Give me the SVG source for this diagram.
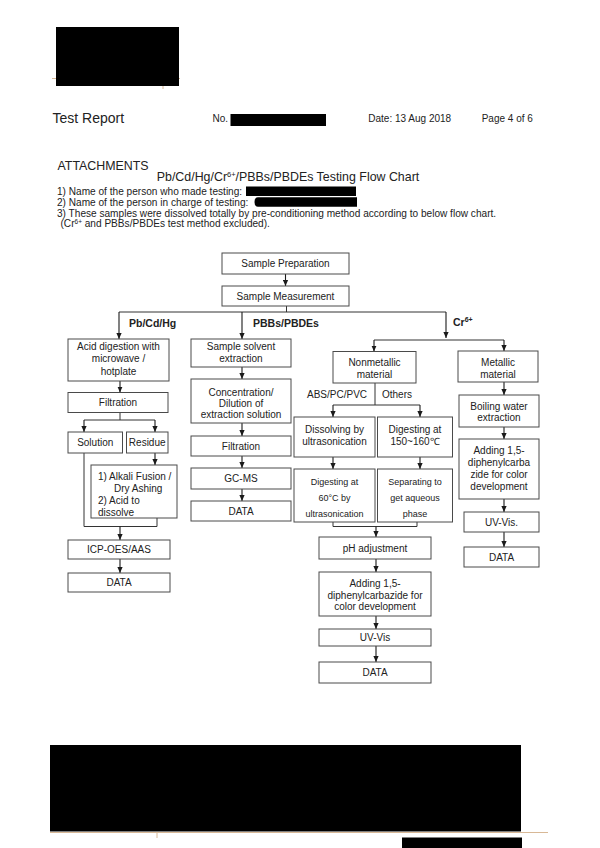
<svg xmlns="http://www.w3.org/2000/svg" width="600" height="848" viewBox="0 0 600 848">
<defs>
<marker id="ah" viewBox="0 0 6 6" refX="6" refY="3" markerWidth="6" markerHeight="6" markerUnits="userSpaceOnUse" orient="auto">
<path d="M0,0.4 L6,3 L0,5.6 z" fill="#1a1a1a"/>
</marker>
<style>
.t{font-family:"Liberation Sans",Arial,sans-serif;font-size:10px;fill:#222}
.c{text-anchor:middle}
.s{font-size:9px}
.b{font-weight:bold;font-size:10.5px}
.i{font-size:10.1px}
.box{fill:#fff;stroke:#4a4a4a;stroke-width:1}
.ln{fill:none;stroke:#333;stroke-width:1}
.ar{fill:none;stroke:#1a1a1a;stroke-width:1.1;marker-end:url(#ah)}
.red{fill:#000}
.tan{stroke:#d8b896;stroke-width:1;fill:none}
</style>
</defs>
<rect width="600" height="848" fill="#fff"/>

<g id="header">
<line class="tan" x1="52" y1="78.5" x2="180" y2="78.5"/>
<line class="tan" x1="163" y1="78" x2="163" y2="89"/>
<rect class="red" x="56" y="27" width="123" height="59"/>
<text class="t" x="52.5" y="122.5" style="font-size:14px">Test Report</text>
<text class="t" x="212.5" y="122">No.</text>
<rect class="red" x="230.5" y="114" width="95.5" height="12"/>
<text class="t" x="368.3" y="122">Date: 13 Aug 2018</text>
<text class="t" x="481.7" y="122">Page 4 of 6</text>
</g>

<g id="intro">
<text class="t" x="57.5" y="169.5" style="font-size:12.4px">ATTACHMENTS</text>
<text class="t c" x="288" y="181" style="font-size:12.4px">Pb/Cd/Hg/Cr<tspan style="font-size:7.5px" dy="-4.5">6+</tspan><tspan dy="4.5">/PBBs/PBDEs Testing Flow Chart</tspan></text>
<text class="t i" x="57" y="195">1) Name of the person who made testing:</text>
<rect class="red" x="246" y="186.5" width="110" height="9.5"/>
<text class="t i" x="57" y="205.8">2) Name of the person in charge of testing:</text>
<path class="red" d="M258,197.3 H357 V206.8 H258 Q254.5,206.8 254.5,202 Q254.5,197.3 258,197.3 z"/>
<text class="t i" x="57" y="216.7">3) These samples were dissolved totally by pre-conditioning method according to below flow chart.</text>
<text class="t i" x="60.5" y="227">(Cr<tspan style="font-size:6.5px" dy="-3.5">6+</tspan><tspan dy="3.5"> and PBBs/PBDEs test method excluded).</tspan></text>
</g>

<g id="connectors">
<line class="ar" x1="285.5" y1="274" x2="285.5" y2="286"/>
<polyline class="ln" points="286.5,306 286.5,312"/>
<line class="ln" x1="119" y1="312" x2="446" y2="312"/>
<line class="ar" x1="119" y1="312" x2="119" y2="339"/>
<line class="ar" x1="242" y1="312" x2="242" y2="339"/>
<line class="ar" x1="446" y1="312" x2="446" y2="338"/>
<line class="ln" x1="374" y1="340" x2="504" y2="340"/>
<line class="ar" x1="374" y1="340" x2="374" y2="351.5"/>
<line class="ar" x1="504" y1="340" x2="504" y2="351"/>
<line class="ar" x1="120" y1="381" x2="120" y2="392.5"/>
<line class="ln" x1="120" y1="412.5" x2="120" y2="420"/>
<line class="ln" x1="84" y1="420" x2="155" y2="420"/>
<line class="ar" x1="84" y1="420" x2="84" y2="432"/>
<line class="ar" x1="155" y1="420" x2="155" y2="432"/>
<line class="ar" x1="155" y1="453" x2="155" y2="465"/>
<polyline class="ln" points="84,453 84,526.5 157,526.5 157,518"/>
<line class="ar" x1="120" y1="526.5" x2="120" y2="540"/>
<line class="ar" x1="120" y1="559" x2="120" y2="573"/>
<line class="ar" x1="242" y1="367" x2="242" y2="379"/>
<line class="ar" x1="242" y1="423" x2="242" y2="436"/>
<line class="ar" x1="242" y1="456" x2="242" y2="468"/>
<line class="ar" x1="242" y1="489" x2="242" y2="501"/>
<line class="ln" x1="375" y1="383" x2="375" y2="405"/>
<line class="ln" x1="333" y1="405" x2="420" y2="405"/>
<line class="ar" x1="333" y1="405" x2="333" y2="417"/>
<line class="ar" x1="420" y1="405" x2="420" y2="417"/>
<line class="ar" x1="333" y1="457" x2="333" y2="469"/>
<line class="ar" x1="420" y1="457" x2="420" y2="469"/>
<polyline class="ln" points="333,522 333,526.5 417,526.5 417,522"/>
<line class="ar" x1="376" y1="526.5" x2="376" y2="537"/>
<line class="ar" x1="376" y1="559" x2="376" y2="572"/>
<line class="ar" x1="376" y1="616" x2="376" y2="629"/>
<line class="ar" x1="376" y1="646" x2="376" y2="662"/>
<line class="ar" x1="504" y1="382" x2="504" y2="395"/>
<line class="ar" x1="504" y1="427" x2="504" y2="439"/>
<line class="ar" x1="504" y1="499" x2="504" y2="512"/>
<line class="ar" x1="504" y1="532" x2="504" y2="547"/>
</g>

<g id="labels">
<text class="t b" x="129" y="327">Pb/Cd/Hg</text>
<text class="t b" x="253" y="327">PBBs/PBDEs</text>
<text class="t b" x="453" y="326">Cr<tspan style="font-size:7px" dy="-4">6+</tspan></text>
<text class="t" x="307" y="397.5">ABS/PC/PVC</text>
<text class="t" x="382" y="397.5">Others</text>
</g>

<g id="sample-preparation"><rect class="box" x="222" y="253" width="127" height="21"/><text class="t c" x="285.5" y="267">Sample Preparation</text></g>
<g id="sample-measurement"><rect class="box" x="222" y="286" width="127" height="20"/><text class="t c" x="285.5" y="299.5">Sample Measurement</text></g>

<g id="acid-digestion"><rect class="box" x="68" y="339" width="101" height="42"/><text class="t c" x="118.5" y="350">Acid digestion with</text><text class="t c" x="118.5" y="362">microwave /</text><text class="t c" x="118.5" y="374.5">hotplate</text></g>
<g id="filtration-1"><rect class="box" x="68" y="392.5" width="100" height="20"/><text class="t c" x="118" y="406">Filtration</text></g>
<g id="solution"><rect class="box" x="68" y="432" width="54.5" height="21"/><text class="t c" x="95.2" y="446">Solution</text></g>
<g id="residue"><rect class="box" x="126.5" y="432" width="41.5" height="21"/><text class="t c" x="147.2" y="446">Residue</text></g>
<g id="alkali-fusion"><rect class="box" x="91" y="465" width="86" height="53"/><text class="t" x="98" y="480">1) Alkali Fusion /</text><text class="t" x="114" y="492">Dry Ashing</text><text class="t" x="98" y="504">2) Acid to</text><text class="t" x="98" y="515.5">dissolve</text></g>
<g id="icp-oes"><rect class="box" x="68" y="540" width="102" height="19"/><text class="t c" x="119" y="553">ICP-OES/AAS</text></g>
<g id="data-1"><rect class="box" x="68" y="573" width="102" height="19"/><text class="t c" x="119" y="586">DATA</text></g>

<g id="solvent-extraction"><rect class="box" x="191" y="339" width="100" height="28"/><text class="t c" x="241" y="350">Sample solvent</text><text class="t c" x="241" y="362">extraction</text></g>
<g id="concentration"><rect class="box" x="191" y="379" width="100" height="44"/><text class="t c" x="241" y="396">Concentration/</text><text class="t c" x="241" y="407">Dilution of</text><text class="t c" x="241" y="418">extraction solution</text></g>
<g id="filtration-2"><rect class="box" x="191" y="436" width="100" height="20"/><text class="t c" x="241" y="449.5">Filtration</text></g>
<g id="gc-ms"><rect class="box" x="191" y="468" width="100" height="21"/><text class="t c" x="241" y="482">GC-MS</text></g>
<g id="data-2"><rect class="box" x="191" y="501" width="100" height="20"/><text class="t c" x="241" y="514.5">DATA</text></g>

<g id="nonmetallic"><rect class="box" x="333" y="351.5" width="83" height="31.5"/><text class="t c" x="374.5" y="366">Nonmetallic</text><text class="t c" x="374.5" y="378">material</text></g>
<g id="dissolving"><rect class="box" x="294" y="417" width="81" height="40"/><text class="t c" x="334.5" y="432.5">Dissolving by</text><text class="t c" x="334.5" y="444.5">ultrasonication</text></g>
<g id="digesting-150"><rect class="box" x="377.5" y="417" width="75" height="40"/><text class="t c" x="415" y="432.5">Digesting at</text><text class="t c" x="415" y="444.5">150~160℃</text></g>
<g id="digesting-60"><rect class="box" x="294" y="469" width="81" height="53"/><text class="t c s" x="334.5" y="485">Digesting at</text><text class="t c s" x="334.5" y="501">60°C by</text><text class="t c s" x="334.5" y="516.5">ultrasonication</text></g>
<g id="separating"><rect class="box" x="377.5" y="469" width="75" height="53"/><text class="t c s" x="415" y="485">Separating to</text><text class="t c s" x="415" y="501">get aqueous</text><text class="t c s" x="415" y="516.5">phase</text></g>
<g id="ph-adjustment"><rect class="box" x="319" y="537" width="112" height="22"/><text class="t c" x="375" y="551.5">pH adjustment</text></g>
<g id="adding-1"><rect class="box" x="319" y="572" width="112" height="44"/><text class="t c" x="375" y="586.5">Adding 1,5-</text><text class="t c" x="375" y="598.5">diphenylcarbazide for</text><text class="t c" x="375" y="610">color development</text></g>
<g id="uv-vis-1"><rect class="box" x="319" y="629" width="112" height="17"/><text class="t c" x="375" y="641">UV-Vis</text></g>
<g id="data-3"><rect class="box" x="319" y="662" width="112" height="21"/><text class="t c" x="375" y="676">DATA</text></g>

<g id="metallic"><rect class="box" x="458" y="351" width="80" height="31"/><text class="t c" x="498" y="365.5">Metallic</text><text class="t c" x="498" y="377.5">material</text></g>
<g id="boiling-water"><rect class="box" x="459" y="395" width="80" height="32"/><text class="t c" x="499" y="409.5">Boiling water</text><text class="t c" x="499" y="421">extraction</text></g>
<g id="adding-2"><rect class="box" x="459" y="439" width="80" height="60"/><text class="t c" x="499" y="454">Adding 1,5-</text><text class="t c" x="499" y="466">diphenylcarba</text><text class="t c" x="499" y="477.5">zide for color</text><text class="t c" x="499" y="489.5">development</text></g>
<g id="uv-vis-2"><rect class="box" x="464" y="512" width="75" height="20"/><text class="t c" x="501.5" y="525.5">UV-Vis.</text></g>
<g id="data-4"><rect class="box" x="464" y="547" width="75" height="20"/><text class="t c" x="501.5" y="560.5">DATA</text></g>

<g id="footer">
<line class="tan" x1="50" y1="832.5" x2="548" y2="832.5"/>
<line class="tan" x1="157" y1="832" x2="157" y2="838"/>
<rect class="red" x="50" y="745" width="471" height="86.5"/>
<rect class="red" x="402" y="837.5" width="120" height="10.5"/>
</g>
</svg>
